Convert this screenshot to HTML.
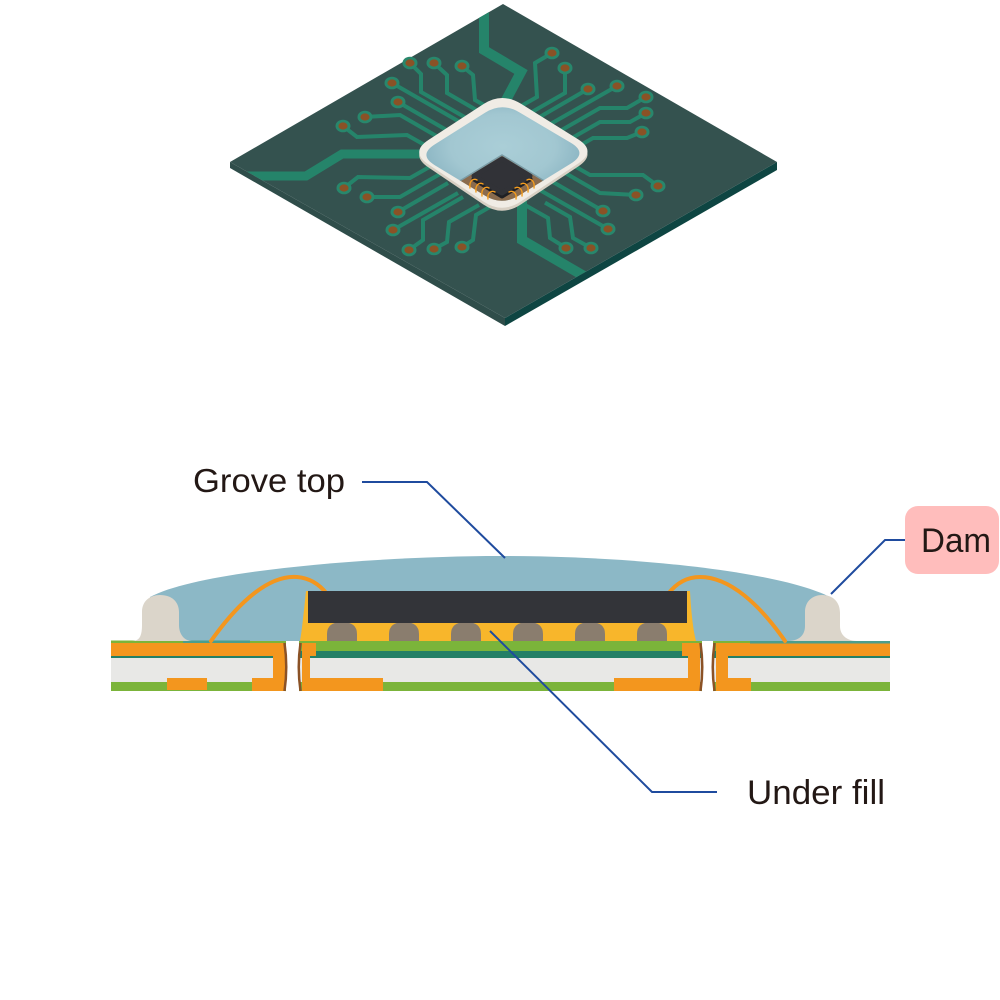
<!DOCTYPE html>
<html>
<head>
<meta charset="utf-8">
<style>
html,body{margin:0;padding:0;background:#fff;}
body{width:1000px;height:1000px;overflow:hidden;}
svg{display:block;}
text{font-family:"Liberation Sans",Arial,sans-serif;fill:#231815;}
</style>
</head>
<body>
<svg width="1000" height="1000" viewBox="0 0 1000 1000" xmlns="http://www.w3.org/2000/svg">
<defs>
  <clipPath id="board"><polygon points="503,4 777,162 505,318 230,162"/></clipPath>
  <clipPath id="inner"><path d="M485.2,112.6 Q502,102 519.2,112.2 L570.8,142.8 Q588,153 570.8,163.6 L519.2,195.4 Q502,206 485.2,195.8 L434.8,165.2 Q418,155 434.8,144.4 Z"/></clipPath>
  <radialGradient id="bg" cx="0.5" cy="0.42" r="0.62">
    <stop offset="0" stop-color="#AACED7"/>
    <stop offset="0.55" stop-color="#A2C7D1"/>
    <stop offset="1" stop-color="#82AEBD"/>
  </radialGradient>
</defs>

<!-- ================= ISOMETRIC BOARD ================= -->
<polygon points="230,162 505,318 505,326 230,168" fill="#2F4D4A"/>
<polygon points="505,318 777,162 777,170 505,326" fill="#0E4542"/>
<polygon points="503,4 777,162 505,318 230,162" fill="#34524F"/>

<g clip-path="url(#board)" fill="none" stroke="#25846A" stroke-linejoin="miter">
  <!-- big bands -->
  <polyline points="484,8 484,50 521,72 505,102" stroke-width="10"/>
  <polyline points="236,176 306,176 342,154 425,154" stroke-width="9"/>
  <polyline points="522,198 522,240 596,283" stroke-width="10"/>
  <g stroke-width="4">
    <!-- top-left -->
    <polyline points="410,63 421,74 421,92 481,126.5"/>
    <polyline points="434,63 447,75 447,93 497,122"/>
    <polyline points="462,66 473,75 475,100 505,117"/>
    <polyline points="392,83 472,129"/>
    <polyline points="398,102 462,139"/>
    <polyline points="365,117 400,115 445,141"/>
    <polyline points="343,126 357,137 407,135 437,152"/>
    <!-- top-right -->
    <polyline points="552,53 535,63 537,97 507,114"/>
    <polyline points="565,68 565,93 525,116"/>
    <polyline points="588,89 538,118"/>
    <polyline points="617,86 547,126"/>
    <polyline points="646,97 627,108 600,108 560,131"/>
    <polyline points="646,113 630,122 600,122 565,142"/>
    <polyline points="642,132 627,138 593,138 573,149.5"/>
    <!-- bottom-left -->
    <polyline points="344,188 358,177 410,178 440,161"/>
    <polyline points="367,197 400,197 440,174"/>
    <polyline points="398,212 448,183"/>
    <polyline points="393,230 458,193"/>
    <polyline points="409,250 423,240 423,220 463,197"/>
    <polyline points="434,249 447,242 449,222 479,205"/>
    <polyline points="462,247 473,240 476,215 495,204"/>
    <!-- bottom-right -->
    <polyline points="658,186 643,175 590,175 570,163.5"/>
    <polyline points="636,195 600,193 560,170"/>
    <polyline points="603,211 553,182"/>
    <polyline points="608,229 538,189"/>
    <polyline points="566,248 550,238 548,218 525,205"/>
    <polyline points="591,248 573,238 570,217 545,202.6"/>
  </g>
</g>

<!-- pads -->
<g>
  <g fill="#28876C">
    <ellipse cx="410" cy="63" rx="7.5" ry="6.3"/>
    <ellipse cx="434" cy="63" rx="7.5" ry="6.3"/>
    <ellipse cx="462" cy="66" rx="7.5" ry="6.3"/>
    <ellipse cx="392" cy="83" rx="7.5" ry="6.3"/>
    <ellipse cx="398" cy="102" rx="7.5" ry="6.3"/>
    <ellipse cx="365" cy="117" rx="7.5" ry="6.3"/>
    <ellipse cx="343" cy="126" rx="7.5" ry="6.3"/>
    <ellipse cx="552" cy="53" rx="7.5" ry="6.3"/>
    <ellipse cx="565" cy="68" rx="7.5" ry="6.3"/>
    <ellipse cx="588" cy="89" rx="7.5" ry="6.3"/>
    <ellipse cx="617" cy="86" rx="7.5" ry="6.3"/>
    <ellipse cx="646" cy="97" rx="7.5" ry="6.3"/>
    <ellipse cx="646" cy="113" rx="7.5" ry="6.3"/>
    <ellipse cx="642" cy="132" rx="7.5" ry="6.3"/>
    <ellipse cx="344" cy="188" rx="7.5" ry="6.3"/>
    <ellipse cx="367" cy="197" rx="7.5" ry="6.3"/>
    <ellipse cx="398" cy="212" rx="7.5" ry="6.3"/>
    <ellipse cx="393" cy="230" rx="7.5" ry="6.3"/>
    <ellipse cx="409" cy="250" rx="7.5" ry="6.3"/>
    <ellipse cx="434" cy="249" rx="7.5" ry="6.3"/>
    <ellipse cx="462" cy="247" rx="7.5" ry="6.3"/>
    <ellipse cx="658" cy="186" rx="7.5" ry="6.3"/>
    <ellipse cx="636" cy="195" rx="7.5" ry="6.3"/>
    <ellipse cx="603" cy="211" rx="7.5" ry="6.3"/>
    <ellipse cx="608" cy="229" rx="7.5" ry="6.3"/>
    <ellipse cx="566" cy="248" rx="7.5" ry="6.3"/>
    <ellipse cx="591" cy="248" rx="7.5" ry="6.3"/>
  </g>
  <g fill="#8A5226">
    <ellipse cx="410" cy="63" rx="4.6" ry="3.6"/>
    <ellipse cx="434" cy="63" rx="4.6" ry="3.6"/>
    <ellipse cx="462" cy="66" rx="4.6" ry="3.6"/>
    <ellipse cx="392" cy="83" rx="4.6" ry="3.6"/>
    <ellipse cx="398" cy="102" rx="4.6" ry="3.6"/>
    <ellipse cx="365" cy="117" rx="4.6" ry="3.6"/>
    <ellipse cx="343" cy="126" rx="4.6" ry="3.6"/>
    <ellipse cx="552" cy="53" rx="4.6" ry="3.6"/>
    <ellipse cx="565" cy="68" rx="4.6" ry="3.6"/>
    <ellipse cx="588" cy="89" rx="4.6" ry="3.6"/>
    <ellipse cx="617" cy="86" rx="4.6" ry="3.6"/>
    <ellipse cx="646" cy="97" rx="4.6" ry="3.6"/>
    <ellipse cx="646" cy="113" rx="4.6" ry="3.6"/>
    <ellipse cx="642" cy="132" rx="4.6" ry="3.6"/>
    <ellipse cx="344" cy="188" rx="4.6" ry="3.6"/>
    <ellipse cx="367" cy="197" rx="4.6" ry="3.6"/>
    <ellipse cx="398" cy="212" rx="4.6" ry="3.6"/>
    <ellipse cx="393" cy="230" rx="4.6" ry="3.6"/>
    <ellipse cx="409" cy="250" rx="4.6" ry="3.6"/>
    <ellipse cx="434" cy="249" rx="4.6" ry="3.6"/>
    <ellipse cx="462" cy="247" rx="4.6" ry="3.6"/>
    <ellipse cx="658" cy="186" rx="4.6" ry="3.6"/>
    <ellipse cx="636" cy="195" rx="4.6" ry="3.6"/>
    <ellipse cx="603" cy="211" rx="4.6" ry="3.6"/>
    <ellipse cx="608" cy="229" rx="4.6" ry="3.6"/>
    <ellipse cx="566" cy="248" rx="4.6" ry="3.6"/>
    <ellipse cx="591" cy="248" rx="4.6" ry="3.6"/>
  </g>
</g>

<!-- dam ring (iso) -->
<path d="M483.6,107 Q502,95 521,106.8 L578,142.2 Q597,154 578,166.6 L521,204.4 Q502,217 483.6,204.6 L428.4,167.4 Q410,155 428.4,143 Z" fill="#D8D0C4"/>
<path transform="translate(0,-3)" d="M483.6,107 Q502,95 521,106.8 L578,142.2 Q597,154 578,166.6 L521,204.4 Q502,217 483.6,204.6 L428.4,167.4 Q410,155 428.4,143 Z" fill="#F0ECE5"/>
<!-- inner encapsulant -->
<path d="M485.2,112.6 Q502,102 519.2,112.2 L570.8,142.8 Q588,153 570.8,163.6 L519.2,195.4 Q502,206 485.2,195.8 L434.8,165.2 Q418,155 434.8,144.4 Z" fill="url(#bg)"/>
<g clip-path="url(#inner)">
  <polygon points="502,155 455,184 502,215 549,184" fill="#8A6B4D"/>
  <polyline points="458,182 502,155 546,182" fill="none" stroke="#7A9CA6" stroke-width="1.5"/>
</g>
<!-- chip -->
<polygon points="502,162 530,179 502,196 474,179" fill="#1F2024" stroke="#1F2024" stroke-width="5" stroke-linejoin="round"/>
<polygon points="502,159 530,176 502,193 474,176" fill="#313237" stroke="#313237" stroke-width="5" stroke-linejoin="round"/>
<!-- gold wires -->
<g fill="none" stroke="#F39C1E" stroke-width="1.4" stroke-linecap="round">
  <path d="M477,180 c-4,-2 -8,1 -7,8"/>
  <path d="M483,184 c-4,-2 -8,1 -7,8"/>
  <path d="M489,188 c-4,-2 -8,1 -7,8"/>
  <path d="M495,192 c-4,-2 -8,1 -7,7"/>
  <path d="M527,180 c4,-2 8,1 7,8"/>
  <path d="M521,184 c4,-2 8,1 7,8"/>
  <path d="M515,188 c4,-2 8,1 7,8"/>
  <path d="M509,192 c4,-2 8,1 7,7"/>
</g>

<!-- ================= CROSS SECTION ================= -->
<!-- dome -->
<path d="M150,597 C200,570 380,556 500,556 C640,556 780,572 830,597 L830,641 L150,641 Z" fill="#8CB8C6"/>

<!-- board layers -->
<rect x="111" y="657" width="779" height="25" fill="#E8E8E6"/>
<rect x="111" y="682" width="779" height="9" fill="#7BB43A"/>
<rect x="111" y="650" width="779" height="8" fill="#247F66"/>
<rect x="250" y="641" width="500" height="10" fill="#7BB43A"/>
<!-- orange pads / vias -->
<g fill="#F3961E">
  <rect x="111" y="643" width="174" height="13"/>
  <rect x="273" y="643" width="12" height="48"/>
  <rect x="302" y="643" width="8" height="48"/>
  <rect x="302" y="643" width="14" height="13"/>
  <rect x="302" y="678" width="81" height="13"/>
  <rect x="167" y="678" width="40" height="12"/>
  <rect x="252" y="678" width="33" height="13"/>
  <rect x="682" y="643" width="18" height="13"/>
  <rect x="688" y="643" width="12" height="48"/>
  <rect x="716" y="643" width="12" height="48"/>
  <rect x="716" y="643" width="174" height="13"/>
  <rect x="614" y="678" width="86" height="13"/>
  <rect x="716" y="678" width="35" height="13"/>
</g>
<!-- top thin lines -->
<rect x="111" y="640.5" width="72" height="2.5" fill="#7BB43A"/>
<rect x="183" y="640.5" width="67" height="2.5" fill="#4C9E8C"/>
<rect x="250" y="641" width="500" height="2" fill="#7BB43A"/>
<rect x="750" y="641" width="140" height="2.5" fill="#4C9E8C"/>
<!-- via holes -->
<rect x="286" y="641" width="13" height="50" fill="#FFFFFF"/>
<rect x="702" y="641" width="11" height="50" fill="#FFFFFF"/>
<g fill="none" stroke="#8B5226" stroke-width="2.5">
  <path d="M284.5,643 Q288,667 284.5,691"/>
  <path d="M300.5,643 Q297,667 300.5,691"/>
  <path d="M700.5,643 Q704,667 700.5,691"/>
  <path d="M714.5,643 Q711,667 714.5,691"/>
</g>

<!-- dams -->
<path d="M132,641 C140,641 142,635 142,625 L142,612 C142,601 150,595 160,595 C172,595 179,602 179,612 L179,625 C179,635 185,641 192,641 Z" fill="#DBD5CA"/>
<path d="M788,641 C798,641 805,636 805,626 L805,612 C805,601 813,595 822,595 C833,595 840,602 840,613 L840,626 C840,636 848,641 857,641 Z" fill="#DBD5CA"/>

<!-- wires -->
<g fill="none" stroke="#F3961E" stroke-width="4" stroke-linecap="round">
  <path d="M211,641 C240,600 270,575 297,577 C310,578 320,585 327,594"/>
  <path d="M668,594 C678,581 690,577 700,577 C730,577 760,605 785,641"/>
</g>

<!-- underfill -->
<path d="M300,641 C302,630 304,610 306,591 L690,591 C691,610 693,630 696,641 Z" fill="#F8B62B"/>
<!-- bumps -->
<g fill="#8A7D6E">
  <path d="M327,641 L327,634 Q327,622 342,622 Q357,622 357,634 L357,641 Z"/>
  <path d="M389,641 L389,634 Q389,622 404,622 Q419,622 419,634 L419,641 Z"/>
  <path d="M451,641 L451,634 Q451,622 466,622 Q481,622 481,634 L481,641 Z"/>
  <path d="M513,641 L513,634 Q513,622 528,622 Q543,622 543,634 L543,641 Z"/>
  <path d="M575,641 L575,634 Q575,622 590,622 Q605,622 605,634 L605,641 Z"/>
  <path d="M637,641 L637,634 Q637,622 652,622 Q667,622 667,634 L667,641 Z"/>
</g>
<!-- chip -->
<rect x="308" y="591" width="379" height="32" fill="#333439"/>

<!-- leader lines -->
<g fill="none" stroke="#1F4B9E" stroke-width="2">
  <polyline points="362,482 427,482 505,558"/>
  <polyline points="905,540 885,540 831,594"/>
  <polyline points="490,631 652,792 717,792"/>
</g>

<!-- labels -->
<text x="193" y="492" font-size="33" textLength="152" lengthAdjust="spacingAndGlyphs">Grove top</text>
<rect x="905" y="506" width="94" height="68" rx="13" ry="13" fill="#FFBDBC"/>
<text x="921" y="552" font-size="34" textLength="70" lengthAdjust="spacingAndGlyphs">Dam</text>
<text x="747" y="804" font-size="34" textLength="138" lengthAdjust="spacingAndGlyphs">Under fill</text>
</svg>
</body>
</html>
